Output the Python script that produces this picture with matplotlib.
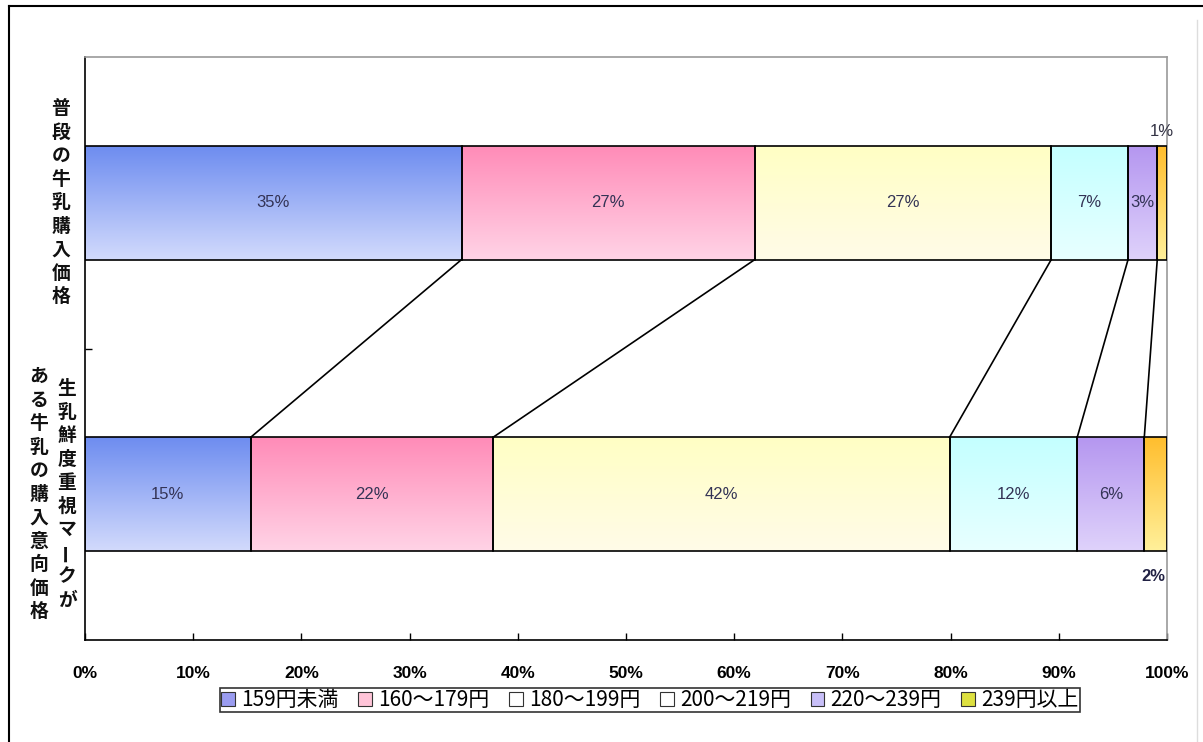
import matplotlib
matplotlib.use("Agg")
import matplotlib.pyplot as plt
import numpy as np
from matplotlib.patches import Patch
from matplotlib.lines import Line2D
from matplotlib.colors import to_rgb

plt.rcParams['font.family'] = ['Noto Sans CJK JP', 'DejaVu Sans']

# data (% of respondents per price band)
bands = ['159円未満', '160～179円', '180～199円', '200～219円', '220～239円', '239円以上']
usual_price = [34.8, 27.1, 27.4, 7.1, 2.7, 0.9]
intended_price = [15.3, 22.4, 42.2, 11.8, 6.2, 2.1]
row_labels = ['普段の牛乳購入価格', ['生乳鮮度重視マークが', 'ある牛乳の購入意向価格']]
xticks = np.arange(0, 101, 10)

# gradient colours (top, bottom) per band, and legend swatches
grad = [('#6e8df0', '#d2dafc'), ('#ff8cb8', '#ffd3e6'), ('#ffffc4', '#fffbe8'),
        ('#c4ffff', '#e8ffff'), ('#b597f0', '#dfd2fb'), ('#ffbe2e', '#fff09a')]
swatch = ['#9a9cf0', '#ffc4d8', '#ffffff', '#ffffff', '#c8bff8', '#dde040']

W, H = 1203, 742
fig = plt.figure(figsize=(W / 100, H / 100), dpi=100)
ax = fig.add_axes([85 / W, 1 - 640 / H, (1167 - 85) / W, (640 - 57) / H])

rows = [usual_price, intended_price]
ypos = [1.5, 0.5]
bar_h = 0.39

all_bars = []
for vals, y in zip(rows, ypos):
    lefts = np.concatenate([[0], np.cumsum(vals)[:-1]])
    bars = ax.barh([y] * len(vals), vals, left=lefts, height=bar_h,
                   color='none', edgecolor='black', linewidth=1.2, zorder=3)
    all_bars.append(bars)
    for b, (c1, c2) in zip(bars, grad):
        x0, y0, w, h = b.get_x(), b.get_y(), b.get_width(), b.get_height()
        t = np.linspace(0, 1, 64)[:, None]
        img = (1 - t) * np.array(to_rgb(c1)) + t * np.array(to_rgb(c2))
        ax.imshow(img[:, None, :], extent=(x0, x0 + w, y0, y0 + h),
                  aspect='auto', origin='upper', interpolation='bilinear', zorder=2)

# percent labels
for bars, vals in zip(all_bars, rows):
    for i, (b, v) in enumerate(zip(bars, vals)):
        cx = b.get_x() + b.get_width() / 2
        cy = b.get_y() + b.get_height() / 2
        txt = f"{round(v)}%"
        if i == len(vals) - 1:
            if bars is all_bars[0]:
                ax.text(cx, b.get_y() + b.get_height() + 0.025, txt, ha='center', va='bottom',
                        fontsize=12, color='#333344', family='Liberation Sans', zorder=4)
            else:
                ax.text(cx - 0.2, b.get_y() - 0.06, txt, ha='center', va='top',
                        fontsize=12, color='#222244', family='Liberation Sans',
                        fontweight='bold', zorder=4)
        else:
            ax.text(cx, cy, txt, ha='center', va='center', fontsize=12,
                    color='#333355', family='Liberation Sans', zorder=4)

# series connector lines
top_cum = np.cumsum(usual_price)[:-1]
bot_cum = np.cumsum(intended_price)[:-1]
for a, b in zip(top_cum, bot_cum):
    ax.plot([a, b], [ypos[0] - bar_h / 2, ypos[1] + bar_h / 2], color='black', lw=1.2, zorder=3)

ax.set_xlim(0, 100)
ax.set_ylim(0, 2)
ax.set_xticks(xticks)
ax.set_xticklabels([f"{v}%" for v in xticks], family='Liberation Sans',
                   fontweight='bold', fontsize=12.5)
ax.set_yticks([1.0])
ax.set_yticklabels([''])
ax.tick_params(axis='both', direction='in', length=5, width=1)
ax.tick_params(axis='x', pad=19)
for s in ['left', 'bottom']:
    ax.spines[s].set_color('black')
    ax.spines[s].set_linewidth(1.2)
for s in ['top', 'right']:
    ax.spines[s].set_color('#9a9a9a')
    ax.spines[s].set_linewidth(1.2)

# vertical category labels, one glyph per line
fig.canvas.draw()
sp = 23.5
def vertical(text, xpx, ycat):
    yd = ax.transData.transform((0, ycat))[1]
    n = len(text)
    for i, ch in enumerate(text):
        yy = yd + (n - 1) / 2 * sp - i * sp
        rot = 90 if ch == 'ー' else 0
        fig.text(xpx / W, yy / H, ch, ha='center', va='center', fontsize=13.5,
                 fontweight='bold', rotation=rot, color='#111111')

vertical(row_labels[0], 61, ypos[0])
vertical(row_labels[1][0], 67, ypos[1])
vertical(row_labels[1][1], 39, ypos[1])

# legend
handles = [Patch(facecolor=c, edgecolor='#333333', linewidth=0.8) for c in swatch]
leg = fig.legend(handles, bands, loc='center', bbox_to_anchor=(650 / W, 1 - 700 / H),
                 ncol=6, fontsize=15, frameon=True, fancybox=False,
                 handlelength=0.65, handleheight=0.65, handletextpad=0.3,
                 columnspacing=0.95, borderpad=0.05, borderaxespad=0)
leg.get_frame().set_edgecolor('black')
leg.get_frame().set_linewidth(1.2)

# outer chart border
fig.add_artist(Line2D([9 / W, 9 / W], [0, 1 - 6 / H], color='black', lw=1.5))
fig.add_artist(Line2D([9 / W, 1], [1 - 6 / H, 1 - 6 / H], color='black', lw=1.5))
fig.add_artist(Line2D([1197 / W, 1197 / W], [0, 1 - 20 / H], color='#dddddd', lw=1))

fig.savefig('out.png', dpi=100)
